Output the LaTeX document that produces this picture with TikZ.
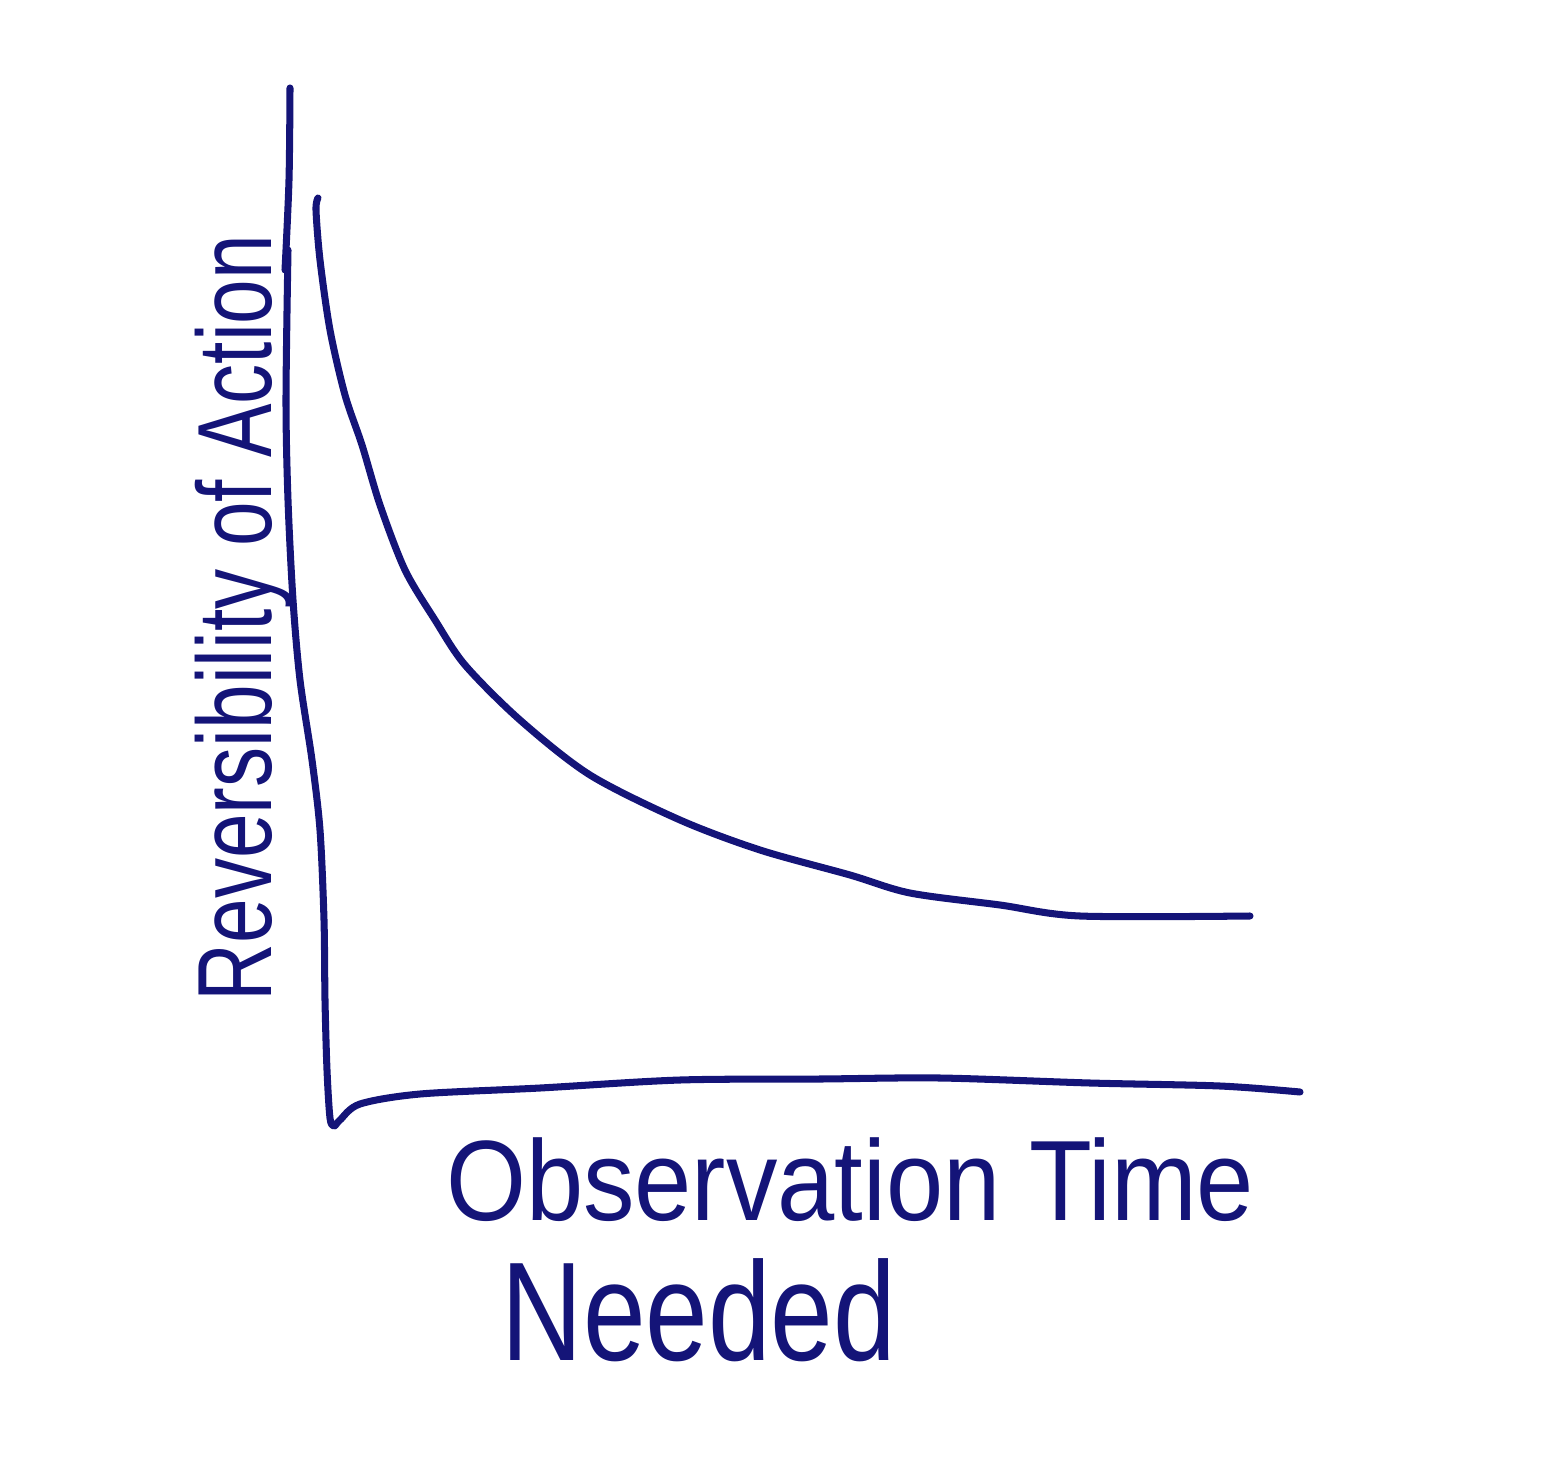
\documentclass[tikz,border=0pt]{standalone}
\usepackage{fontspec}
\setmainfont{Liberation Sans}
\definecolor{ink}{RGB}{20,20,120}
\begin{document}
\begin{tikzpicture}[x=0.01cm,y=-0.01cm,
  pen/.style={draw=ink,line width=2pt,line cap=round,line join=round},
  lbl/.style={text=ink,inner sep=0pt}]
\useasboundingbox (0,0) rectangle (1564,1464);
% axes
\draw[pen] plot[smooth,tension=0.5] coordinates {(290,88) (289,180) (285,270)};
\draw[pen] plot[smooth,tension=0.5] coordinates {(288,250) (286,400) (288,500) (293,600) (300,680) (312,760) (320,830) (324,920) (325,1000) (327,1070) (330,1118) (334,1126) (340,1120) (360,1104) (420,1094) (540,1088) (680,1080) (820,1079) (940,1078) (1090,1083) (1220,1086) (1300,1092)};
% curve
\draw[pen] plot[smooth,tension=0.5] coordinates {(318,198) (316,210) (320,260) (330,330) (345,395) (362,445) (380,505) (405,570) (435,620) (465,665) (520,720) (590,775) (680,820) (760,850) (850,875) (910,893) (1000,905) (1080,916) (1250,916)};
% labels
\node[lbl,rotate=90,xscale=0.76,font=\fontsize{30}{36}\selectfont] (ylab) at (244,618) {Reversibility of Action};
\node[lbl,anchor=base,xscale=0.9,font=\fontsize{32.5}{38}\selectfont] (xlab1) at (850,1220) {Observation Time};
\node[lbl,anchor=base,xscale=0.8,font=\fontsize{40}{46}\selectfont] (xlab2) at (699,1360) {Needed};
\end{tikzpicture}
\end{document}
